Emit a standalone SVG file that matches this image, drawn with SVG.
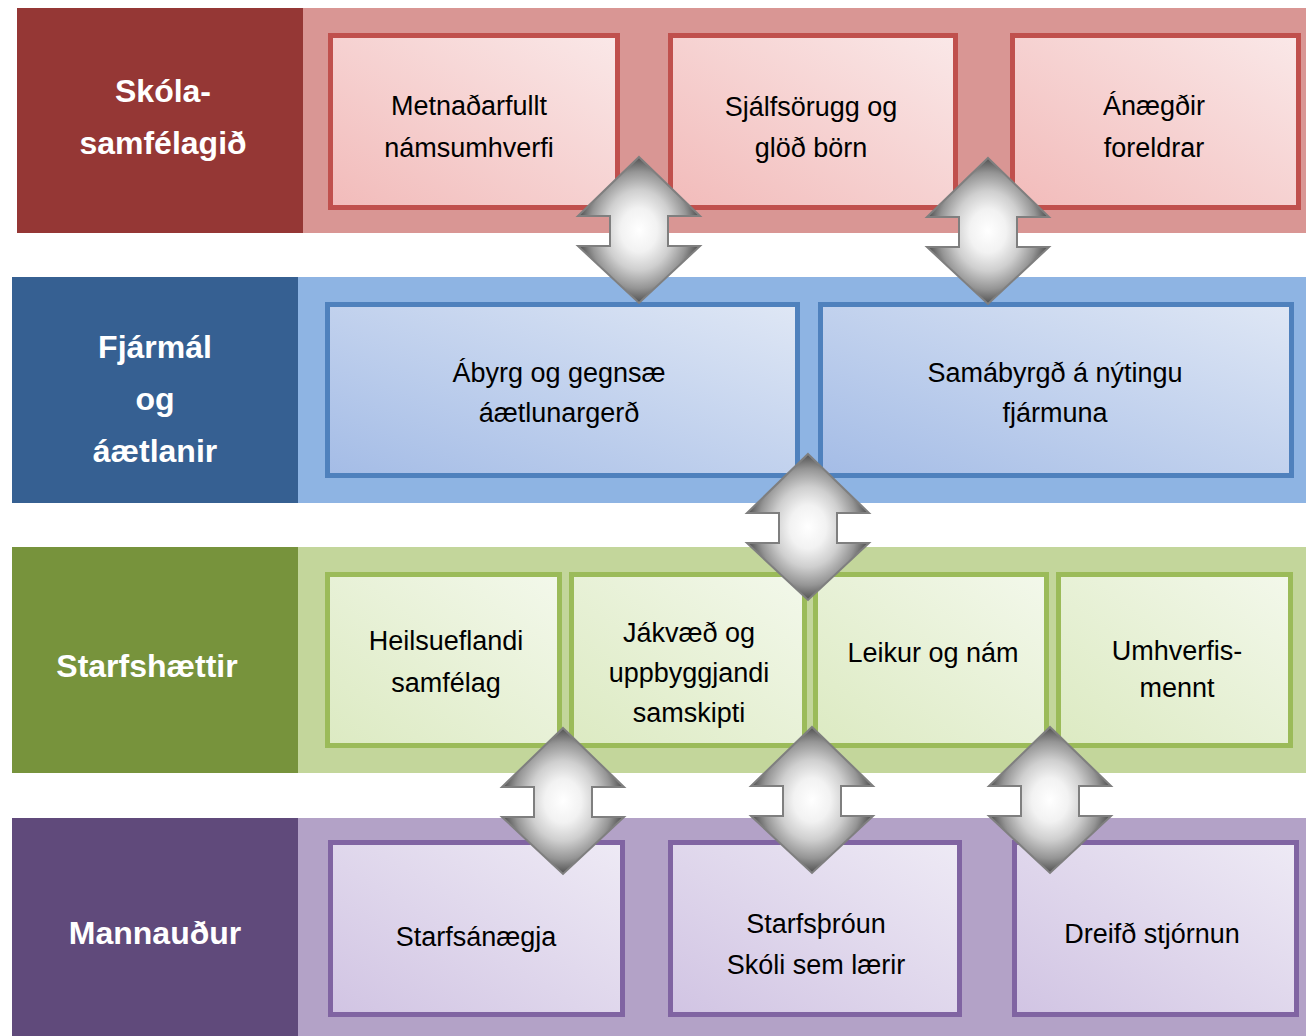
<svg xmlns="http://www.w3.org/2000/svg" width="1306" height="1036" viewBox="0 0 1306 1036">
<defs>
<style>
.hdr{font-family:"Liberation Sans",Arial,sans-serif;font-weight:bold;font-size:32px;fill:#ffffff;text-anchor:middle}
.txt{font-family:"Liberation Sans",Arial,sans-serif;font-size:27px;fill:#000000;text-anchor:middle}
.rbox{fill:url(#gRed);stroke:#C0504D;stroke-width:5}
.bbox{fill:url(#gBlue);stroke:#4F81BD;stroke-width:5}
.gbox{fill:url(#gGreen);stroke:#9BBB59;stroke-width:5}
.pbox{fill:url(#gPurple);stroke:#8064A2;stroke-width:5}
.arrow{fill:url(#gArrow);stroke:#7F7F7F;stroke-width:2;stroke-linejoin:miter}
</style>
<linearGradient id="gRed" x1="0" y1="1" x2="1" y2="0">
<stop offset="0" stop-color="#F2BBBA"/><stop offset="1" stop-color="#FAE8E8"/>
</linearGradient>
<linearGradient id="gBlue" x1="0" y1="1" x2="1" y2="0">
<stop offset="0" stop-color="#A4BCE6"/><stop offset="1" stop-color="#DFE7F5"/>
</linearGradient>
<linearGradient id="gGreen" x1="0" y1="1" x2="1" y2="0">
<stop offset="0" stop-color="#DCEAC2"/><stop offset="1" stop-color="#F3F8EB"/>
</linearGradient>
<linearGradient id="gPurple" x1="0" y1="1" x2="1" y2="0">
<stop offset="0" stop-color="#D1C4E3"/><stop offset="1" stop-color="#EEEAF5"/>
</linearGradient>
<radialGradient id="gArrow" cx="0.5" cy="0.5" r="0.5">
<stop offset="0" stop-color="#FFFFFF"/>
<stop offset="0.3" stop-color="#F2F2F2"/>
<stop offset="0.55" stop-color="#CFCFCF"/>
<stop offset="0.8" stop-color="#959595"/>
<stop offset="1" stop-color="#505050"/>
</radialGradient>
<path id="dblArrow" class="arrow" d="M0,0 L61,59 L29,59 L29,89 L61,89 L0,146 L-61,89 L-29,89 L-29,59 L-61,59 Z"/>
</defs>

<!-- Row 1: Skólasamfélagið -->
<g id="row-skolasamfelagid">
<rect x="303" y="8" width="1003" height="225" fill="#D99694"/>
<rect x="17" y="8" width="286" height="225" fill="#953735"/>
<text class="hdr" x="163" y="102">Skóla-</text>
<text class="hdr" x="163" y="154">samfélagið</text>
</g>
<g id="node-metnadarfullt">
<rect class="rbox" x="330.5" y="35.5" width="287" height="172"/>
<text class="txt" x="469" y="115">Metnaðarfullt</text>
<text class="txt" x="469" y="157">námsumhverfi</text>
</g>
<g id="node-sjalfsorugg">
<rect class="rbox" x="670.5" y="35.5" width="285" height="172"/>
<text class="txt" x="811" y="116">Sjálfsörugg og</text>
<text class="txt" x="811" y="157">glöð börn</text>
</g>
<g id="node-anaegdir">
<rect class="rbox" x="1012.5" y="35.5" width="286" height="172"/>
<text class="txt" x="1154" y="115">Ánægðir</text>
<text class="txt" x="1154" y="157">foreldrar</text>
</g>

<!-- Row 2: Fjármál og áætlanir -->
<g id="row-fjarmal">
<rect x="298" y="277" width="1008" height="226" fill="#8EB4E3"/>
<rect x="12" y="277" width="286" height="226" fill="#366092"/>
<text class="hdr" x="155" y="358">Fjármál</text>
<text class="hdr" x="155" y="410">og</text>
<text class="hdr" x="155" y="462">áætlanir</text>
</g>
<g id="node-abyrg">
<rect class="bbox" x="327.5" y="304.5" width="470" height="171"/>
<text class="txt" x="559" y="382">Ábyrg og gegnsæ</text>
<text class="txt" x="559" y="422">áætlunargerð</text>
</g>
<g id="node-samabyrgd">
<rect class="bbox" x="820.5" y="304.5" width="471" height="171"/>
<text class="txt" x="1055" y="382">Samábyrgð á nýtingu</text>
<text class="txt" x="1055" y="422">fjármuna</text>
</g>

<!-- Row 3: Starfshættir -->
<g id="row-starfshaettir">
<rect x="298" y="547" width="1008" height="226" fill="#C3D69B"/>
<rect x="12" y="547" width="286" height="226" fill="#77933C"/>
<text class="hdr" x="147" y="677">Starfshættir</text>
</g>
<g id="node-heilsueflandi">
<rect class="gbox" x="327.5" y="574.5" width="232" height="171"/>
<text class="txt" x="446" y="650">Heilsueflandi</text>
<text class="txt" x="446" y="692">samfélag</text>
</g>
<g id="node-jakvaed">
<rect class="gbox" x="571.5" y="574.5" width="233" height="171"/>
<text class="txt" x="689" y="642">Jákvæð og</text>
<text class="txt" x="689" y="682">uppbyggjandi</text>
<text class="txt" x="689" y="722">samskipti</text>
</g>
<g id="node-leikur">
<rect class="gbox" x="815.5" y="574.5" width="231" height="171"/>
<text class="txt" x="933" y="662">Leikur og nám</text>
</g>
<g id="node-umhverfismennt">
<rect class="gbox" x="1058.5" y="574.5" width="232" height="171"/>
<text class="txt" x="1177" y="660">Umhverfis-</text>
<text class="txt" x="1177" y="697">mennt</text>
</g>

<!-- Row 4: Mannauður -->
<g id="row-mannaudur">
<rect x="298" y="818" width="1008" height="218" fill="#B3A2C7"/>
<rect x="12" y="818" width="286" height="218" fill="#604A7B"/>
<text class="hdr" x="155" y="944">Mannauður</text>
</g>
<g id="node-starfsanaegja">
<rect class="pbox" x="330.5" y="842.5" width="292" height="172"/>
<text class="txt" x="476" y="946">Starfsánægja</text>
</g>
<g id="node-starfsthroun">
<rect class="pbox" x="670.5" y="842.5" width="289" height="172"/>
<text class="txt" x="816" y="933">Starfsþróun</text>
<text class="txt" x="816" y="974">Skóli sem lærir</text>
</g>
<g id="node-dreifd">
<rect class="pbox" x="1014.5" y="842.5" width="282" height="172"/>
<text class="txt" x="1152" y="943">Dreifð stjórnun</text>
</g>

<!-- Connectors: double-headed arrows -->
<g id="connectors">
<use href="#dblArrow" transform="translate(639,157)"/>
<use href="#dblArrow" transform="translate(988,158)"/>
<use href="#dblArrow" transform="translate(808,454)"/>
<use href="#dblArrow" transform="translate(563,728)"/>
<use href="#dblArrow" transform="translate(812,727)"/>
<use href="#dblArrow" transform="translate(1050,727)"/>
</g>
</svg>
